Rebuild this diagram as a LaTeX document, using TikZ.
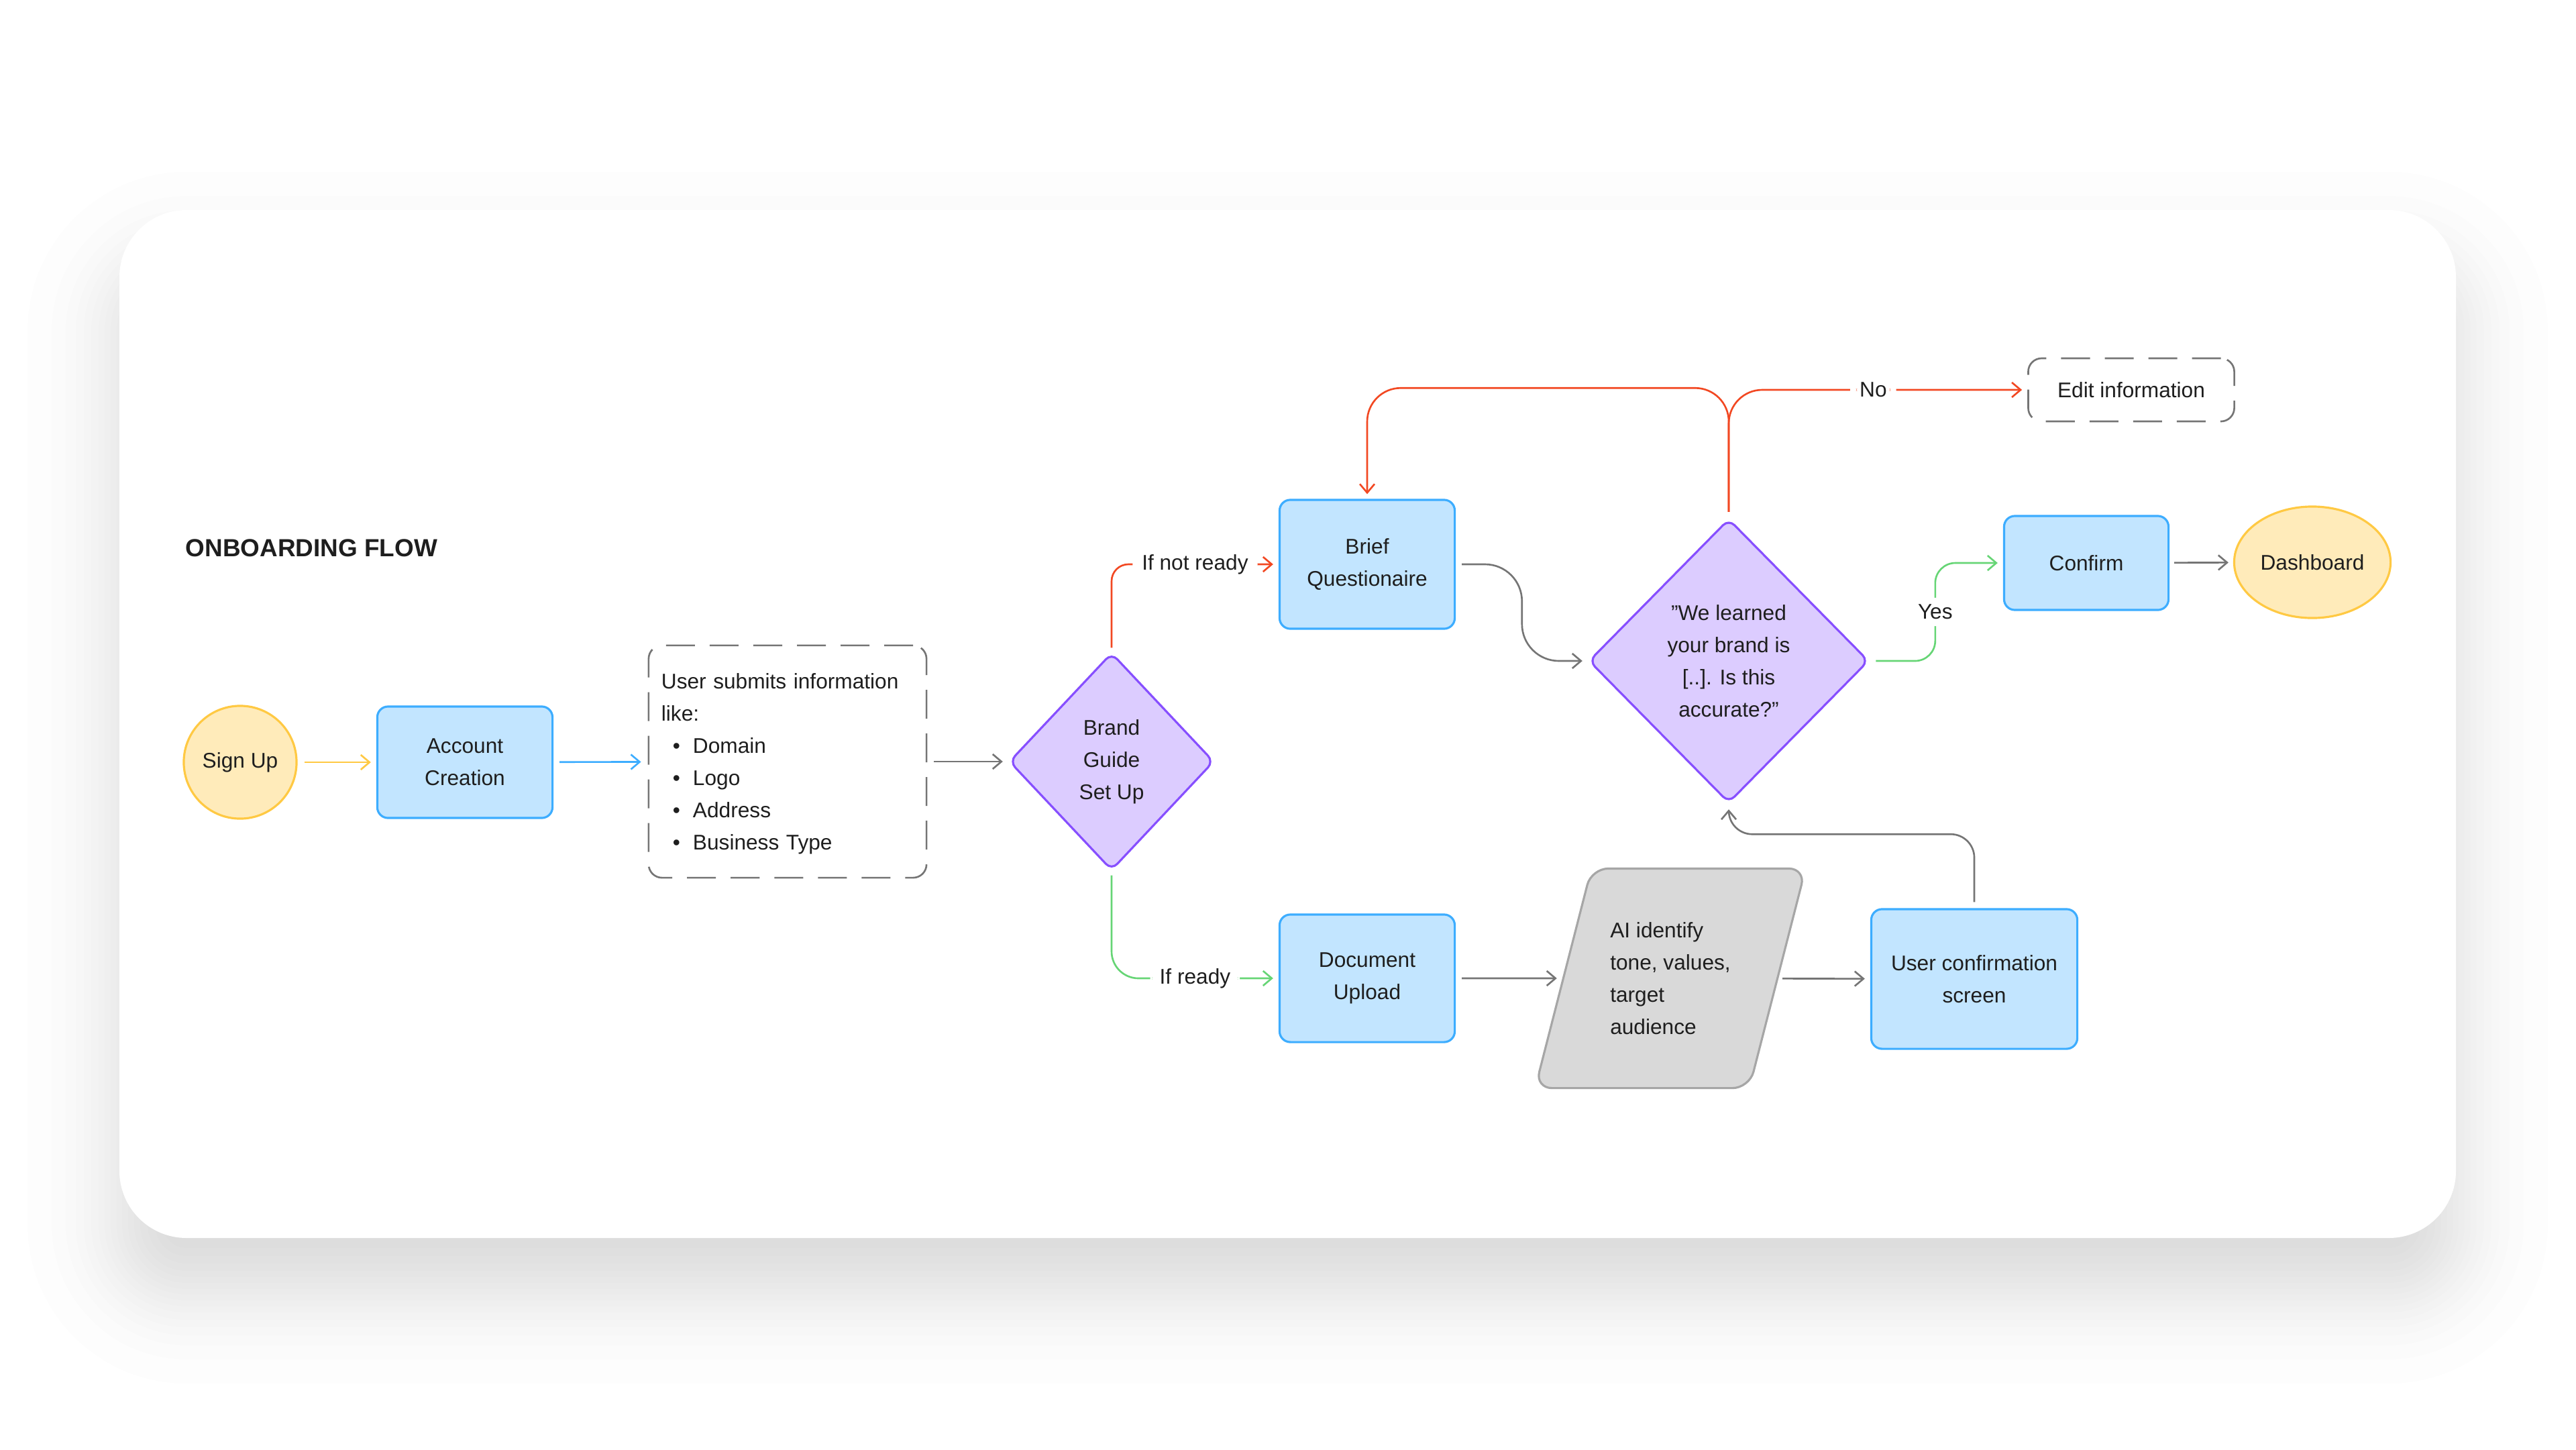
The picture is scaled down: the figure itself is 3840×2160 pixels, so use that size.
\documentclass[tikz,border=0pt]{standalone}
\usepackage{fontspec}
\setmainfont{Liberation Sans}
\usetikzlibrary{shapes.geometric,arrows.meta,calc}
\definecolor{txt}{HTML}{1E1E1E}
\definecolor{yfill}{HTML}{FFEBBA}
\definecolor{ydraw}{HTML}{FFC943}
\definecolor{bfill}{HTML}{C2E5FF}
\definecolor{bdraw}{HTML}{3DADFF}
\definecolor{pfill}{HTML}{DCCCFF}
\definecolor{pdraw}{HTML}{874FFF}
\definecolor{gfill}{HTML}{D9D9D9}
\definecolor{gdraw}{HTML}{A6A6A6}
\definecolor{lgray}{HTML}{757575}
\definecolor{lred}{HTML}{F24822}
\definecolor{lgreen}{HTML}{66D575}
\newcommand\nfont{\fontsize{9pt}{13.66pt}\selectfont}
\begin{document}
\begin{tikzpicture}[x=0.01cm,y=-0.01cm,
  base/.style={inner sep=0pt, align=center, font=\nfont, text=txt, line width=0.9pt},
  mline/.style={execute at begin node={\rule{0pt}{8.6pt}}},
  yelnode/.style={base, draw=ydraw, fill=yfill},
  blubox/.style={base, draw=bdraw, fill=bfill, rounded corners=1.6mm},
  purdia/.style={base, mline, diamond, draw=pdraw, fill=pfill, rounded corners=1.2mm},
  grypara/.style={base, trapezium, trapezium left angle=75, trapezium right angle=105,
     trapezium stretches body=true, draw=gdraw, fill=gfill, rounded corners=2.5mm, align=left},
  dashbox/.style={base, draw=lgray, line width=0.75pt, dash pattern=on 4.3mm off 2.2mm,
     rounded corners=2mm, fill=white},
  conn/.style={line width=0.75pt, -{Straight Barb[length=1.3mm,width=2.2mm]},
     shorten <=0.9mm, shorten >=0.8mm},
  lbl/.style={fill=white, inner xsep=1.4mm, inner ysep=1mm, text=txt, font=\nfont}]
\useasboundingbox (0,0) rectangle (3840,2160);
\fill[white] (0,0) rectangle (3840,2160);
% card shadow
\foreach \s in {-137,-101,-80,-65,-53,-42,-31,-22,-13,-4,4,13,22,31,42,53,65,80,101,137}{
  \pgfmathsetmacro{\rr}{max(100+\s,6)/10}
  \fill[black, opacity=0.0095, rounded corners=\rr mm] ({178-\s},{393-\s}) rectangle ({3661+\s},{1925+\s});
}
% card
\fill[white, rounded corners=10mm] (178,313) rectangle (3661,1845);

\node[anchor=base west, inner sep=0pt, font=\fontsize{10.5pt}{12pt}\selectfont\bfseries, text=txt] (title) at (276,829) {ONBOARDING FLOW};

% nodes
\node[yelnode, circle, minimum size=16.8mm] (signup) at (358,1136) {Sign Up};
\node[blubox, mline, minimum width=26.1mm, minimum height=16.6mm] (acct) at (693,1136) {Account\\Creation};
\node[dashbox, mline, align=left, text width=37.6mm, inner xsep=1.9mm, minimum height=34.6mm] (info) at (1174,1135)
 {User submits information\\like:\\
  \hspace*{1.7mm}\textbullet\hspace{1.9mm}Domain\\
  \hspace*{1.7mm}\textbullet\hspace{1.9mm}Logo\\
  \hspace*{1.7mm}\textbullet\hspace{1.9mm}Address\\
  \hspace*{1.7mm}\textbullet\hspace{1.9mm}Business Type};
\node[purdia, minimum width=30.5mm, minimum height=32.4mm] (brand) at (1657,1135) {Brand\\Guide\\Set Up};
\node[blubox, mline, minimum width=26.1mm, minimum height=19.2mm] (brief) at (2038,841) {Brief\\Questionaire};
\node[blubox, mline, minimum width=26.1mm, minimum height=19.0mm] (docup) at (2038,1458) {Document\\Upload};
\node[grypara, inner ysep=7.3mm, inner xsep=0pt, minimum width=40.3mm, minimum height=32.7mm] (para) at (2490,1458) {AI identify\\tone, values,\\target\\audience};
\node[blubox, mline, minimum width=30.7mm, minimum height=20.8mm] (userconf) at (2943,1459) {User confirmation\\screen};
\node[purdia, minimum width=41.7mm, minimum height=42.3mm] (bigq) at (2577,985) {"We learned\\your brand is\\{[..]}. Is this\\accurate?"};
\node[blubox, minimum width=24.5mm, minimum height=14.0mm] (confirm) at (3110,839) {Confirm};
\node[yelnode, ellipse, minimum width=23.3mm, minimum height=16.6mm] (dash) at (3447,838) {Dashboard};
\node[dashbox, minimum width=30.7mm, minimum height=9.4mm] (edit) at (3177,581) {Edit information};

% connectors
\draw[conn, ydraw, shorten <=1mm] (signup) -- (acct);
\draw[conn, bdraw, shorten >=1mm] (acct) -- (info);
\draw[conn, lgray, shorten <=1mm] (info) -- (brand);
\draw[conn, lred, rounded corners=2.5mm, shorten <=0.6mm] (brand.north) |- node[lbl, pos=0.75] {If not ready} (brief.west);
\draw[conn, lgreen, rounded corners=4mm, shorten <=0.6mm] (brand.south) |- node[lbl, pos=0.75] {If ready} (docup.west);
\draw[conn, lgray, rounded corners=5.5mm] (brief.east) -| ([xshift=-9.8mm]bigq.west) -- (bigq.west);
\draw[conn, lred, rounded corners=5mm, shorten >=0.7mm] (bigq.north) |- ([yshift=16.5mm]brief.north) -- (brief.north);
\draw[conn, lred, rounded corners=5mm] (bigq.north) |- node[lbl, pos=0.742] {No} (edit.west);
\draw[conn, lgreen, rounded corners=3mm] (bigq.east) -| node[lbl, pos=0.75] {Yes} ([xshift=-10.1mm]confirm.west) -- (confirm.west);
\draw[conn, lgray, shorten <=0.7mm, shorten >=0.7mm] (confirm) -- (dash);
\draw[conn, lgray] (docup) -- (para);
\draw[conn, lgray, shorten <=0.6mm] (para) -- (userconf);
\draw[conn, lgray, rounded corners=3.5mm] (userconf.north) |- ([yshift=-4.5mm]bigq.south) -- (bigq.south);
\end{tikzpicture}
\end{document}
